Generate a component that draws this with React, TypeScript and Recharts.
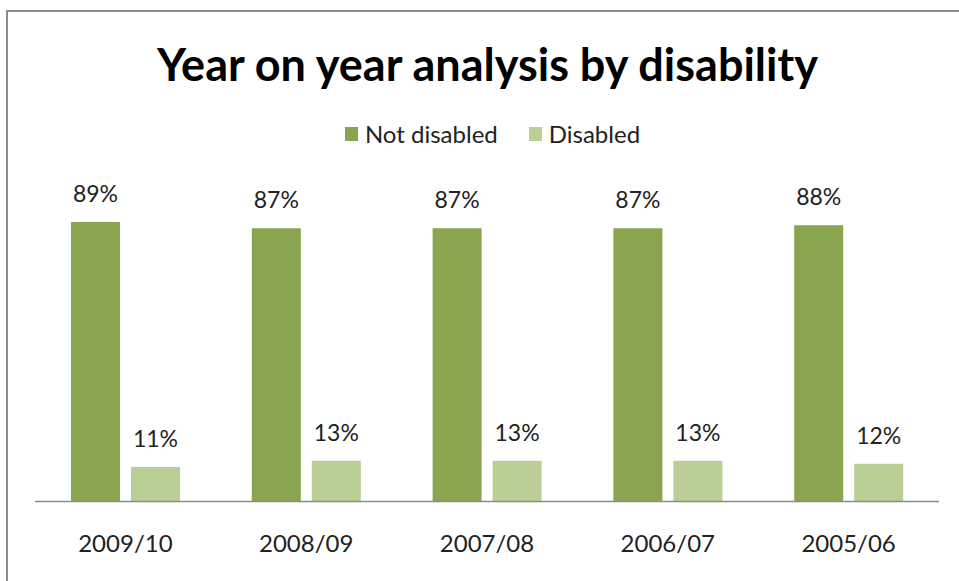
import { Bar, BarChart, LabelList, XAxis, YAxis } from "recharts";

const years = ["2009/10", "2008/09", "2007/08", "2006/07", "2005/06"];
const notDisabled = [89, 87, 87, 87, 88];
const disabled = [11, 13, 13, 13, 12];

const DARK = "#8aa54f";
const LIGHT = "#bacf96";
const FONT = "Lato, 'Open Sans', sans-serif";

const data = years.map((y, i) => ({ year: y, notDisabled: notDisabled[i], disabled: disabled[i] }));

const series = [
  { key: "notDisabled", name: "Not disabled", color: DARK },
  { key: "disabled", name: "Disabled", color: LIGHT },
];

// legend drawn as plain html so it doesn't eat the plot's top margin
function LegendRow() {
  return (
    <div style={{ position: "absolute", left: 0, top: 119, width: 985, display: "flex", justifyContent: "center", alignItems: "center", fontFamily: FONT, fontSize: 24, color: "#222" }}>
      {series.map((s, i) => (
        <div key={s.key} style={{ display: "flex", alignItems: "center", marginLeft: i ? 31 : 0 }}>
          <span style={{ width: 13, height: 14, background: s.color, display: "inline-block", marginRight: 7 }} />
          <span>{s.name}</span>
        </div>
      ))}
    </div>
  );
}

export default function App() {
  return (
    <div style={{ position: "absolute", left: 0, top: 0, width: 959, height: 581, overflow: "hidden", background: "#fff" }}>
      <div style={{ position: "absolute", left: 6, top: 10, width: 1000, height: 700, border: "2px solid #8c8c8c" }} />
      <div style={{ position: "absolute", left: 0, top: 37, width: 975, textAlign: "center", fontFamily: FONT, fontWeight: 700, fontSize: 45, color: "#000" }}>
        Year on year analysis by disability
      </div>
      <LegendRow />
      <div style={{ position: "absolute", left: 0, top: 0 }}>
        {/* x-axis height (30) is added on top of the bottom margin */}
        <BarChart width={959} height={581} data={data} margin={{ top: 187.5, right: 20, bottom: 49.5, left: 35 }} barCategoryGap={36} barGap={11}>
          <XAxis
            dataKey="year"
            axisLine={{ stroke: "#8c8c8c", strokeWidth: 1.5 }}
            tickLine={false}
            tickSize={0}
            tickMargin={33}
            tick={{ fontSize: 24, fill: "#222", fontFamily: FONT }}
          />
          <YAxis hide domain={[0, 100]} />
          {series.map((s) => (
            <Bar key={s.key} dataKey={s.key} name={s.name} fill={s.color} isAnimationActive={false}>
              <LabelList
                dataKey={s.key}
                position="top"
                offset={20}
                formatter={(v: number) => `${v}%`}
                style={{ fontSize: 23, fill: "#222", fontFamily: FONT }}
              />
            </Bar>
          ))}
        </BarChart>
      </div>
    </div>
  );
}
